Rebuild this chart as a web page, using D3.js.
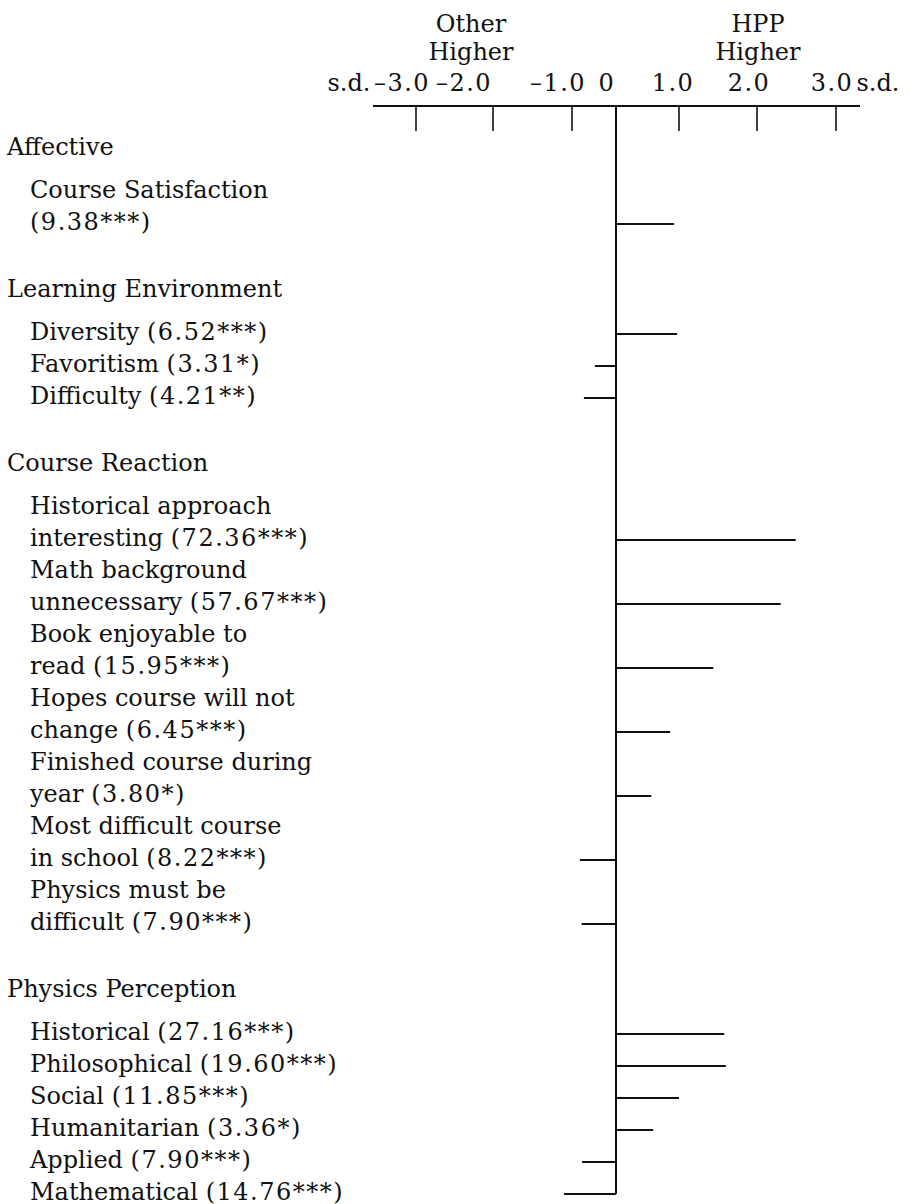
<!DOCTYPE html>
<html>
<head>
<meta charset="utf-8">
<script src="https://cdn.jsdelivr.net/npm/d3@7"></script>
<style>
  body { margin: 0; background: #fff; }
  text { font-family: "DejaVu Serif", serif; font-size: 24px; fill: #111; }
  tspan.num { letter-spacing: 1.5px; }
</style>
</head>
<body>
<svg width="910" height="1204"></svg>
<script>
// groups and items, top to bottom
var groups = ["Affective", "Learning Environment", "Course Reaction", "Physics Perception"];

var itemGroup = [0, 1, 1, 1, 2, 2, 2, 2, 2, 2, 2, 3, 3, 3, 3, 3, 3];

var itemLabels = [
  ["Course Satisfaction", "(9.38***)"],
  ["Diversity (6.52***)"],
  ["Favoritism (3.31*)"],
  ["Difficulty (4.21**)"],
  ["Historical approach", "interesting (72.36***)"],
  ["Math background", "unnecessary (57.67***)"],
  ["Book enjoyable to", "read (15.95***)"],
  ["Hopes course will not", "change (6.45***)"],
  ["Finished course during", "year (3.80*)"],
  ["Most difficult course", "in school (8.22***)"],
  ["Physics must be", "difficult (7.90***)"],
  ["Historical (27.16***)"],
  ["Philosophical (19.60***)"],
  ["Social (11.85***)"],
  ["Humanitarian (3.36*)"],
  ["Applied (7.90***)"],
  ["Mathematical (14.76***)"]
];

// effect size in s.d. (positive = HPP higher)
var itemValues = [0.92, 0.97, -0.48, -0.73, 2.49, 2.30, 1.44, 0.86, 0.56, -0.82, -0.78,
                  1.58, 1.60, 1.00, 0.59, -0.77, -1.10];

var tickValues = [-3, -2, -1, 0, 1, 2, 3];
var tickLabels = ["\u20133.0", "\u20132.0", "\u20131.0", "0", "1.0", "2.0", "3.0"];

var svg = d3.select("svg");

// the printed axis is not evenly spaced, so the scale is piecewise
var x = d3.scaleLinear()
  .domain(tickValues)
  .range([416, 493, 572, 616, 679, 757, 836]);

// where the typeset labels of the top row sit
var xLabel = d3.scaleLinear()
  .domain(tickValues)
  .range([402, 464, 558, 607, 673, 749, 832]);

// layout in "line slots": heading, items, gaps between groups
var slots = [], headSlot = [];
var s = 0;
groups.forEach(function(g, gi) {
  if (gi > 0) s += 2.0625;
  headSlot.push(s);
  s += 0.375;
  itemLabels.forEach(function(lines, i) {
    if (itemGroup[i] != gi) return;
    slots[i] = lines.map(function() { s += 1; return s; });
  });
});

var y = d3.scaleLinear().domain([0, 1]).range([148, 180]);

// header
var heads = [["Other", "Higher", 471], ["HPP", "Higher", 758]];
heads.forEach(function(h) {
  var t = svg.append("text").attr("text-anchor", "middle");
  t.append("tspan").attr("x", h[2]).attr("y", 32).text(h[0]);
  t.append("tspan").attr("x", h[2]).attr("y", 60).text(h[1]);
});

svg.append("text").attr("x", 349).attr("y", 91).attr("text-anchor", "middle").text("s.d.");
svg.append("text").attr("x", 878).attr("y", 91).attr("text-anchor", "middle").text("s.d.");

svg.selectAll("text.tick")
  .data(tickValues)
  .enter()
  .append("text")
    .attr("class", "tick")
    .attr("x", function(d) { return xLabel(d); })
    .attr("y", 91)
    .attr("text-anchor", "middle")
    .style("letter-spacing", "1.5px")
    .text(function(d, i) { return tickLabels[i]; });

// axis line and ticks
var axisY = 106;
svg.append("line")
  .attr("x1", 373).attr("x2", 860)
  .attr("y1", axisY).attr("y2", axisY)
  .attr("stroke", "#111").attr("stroke-width", 2);

svg.selectAll("line.tick")
  .data(tickValues.filter(function(d) { return d != 0; }))
  .enter()
  .append("line")
    .attr("class", "tick")
    .attr("x1", function(d) { return x(d); })
    .attr("x2", function(d) { return x(d); })
    .attr("y1", axisY).attr("y2", axisY + 25)
    .attr("stroke", "#111").attr("stroke-width", 1.6);

// zero line down to the last item
var lastSlot = slots[slots.length - 1];
svg.append("line")
  .attr("x1", x(0)).attr("x2", x(0))
  .attr("y1", axisY).attr("y2", y(lastSlot[lastSlot.length - 1]))
  .attr("stroke", "#111").attr("stroke-width", 2);

// group headings
svg.selectAll("text.group")
  .data(groups)
  .enter()
  .append("text")
    .attr("class", "group")
    .attr("x", 7)
    .attr("y", function(d, i) { return y(headSlot[i]) + 7; })
    .text(function(d) { return d; });

// item labels
var items = svg.selectAll("g.item")
  .data(itemLabels)
  .enter()
  .append("g")
    .attr("class", "item");

var lineText = items.selectAll("text")
  .data(function(d, i) { return d.map(function(t, j) { return { t: t, s: slots[i][j] }; }); })
  .enter()
  .append("text")
    .attr("x", 30)
    .attr("y", function(d) { return y(d.s) + 5.5; });

// words, then the F value in parentheses (set a bit wider, as printed)
lineText.each(function(d) {
  var k = d.t.indexOf("(");
  var el = d3.select(this);
  if (k < 0) { el.text(d.t); return; }
  if (k > 0) el.append("tspan").text(d.t.slice(0, k));
  el.append("tspan").attr("class", "num").text(d.t.slice(k));
});

// bars
items.append("line")
  .attr("x1", x(0))
  .attr("x2", function(d, i) { return x(itemValues[i]); })
  .attr("y1", function(d, i) { return y(slots[i][slots[i].length - 1]); })
  .attr("y2", function(d, i) { return y(slots[i][slots[i].length - 1]); })
  .attr("stroke", "#111")
  .attr("stroke-width", 2);
</script>
</body>
</html>
